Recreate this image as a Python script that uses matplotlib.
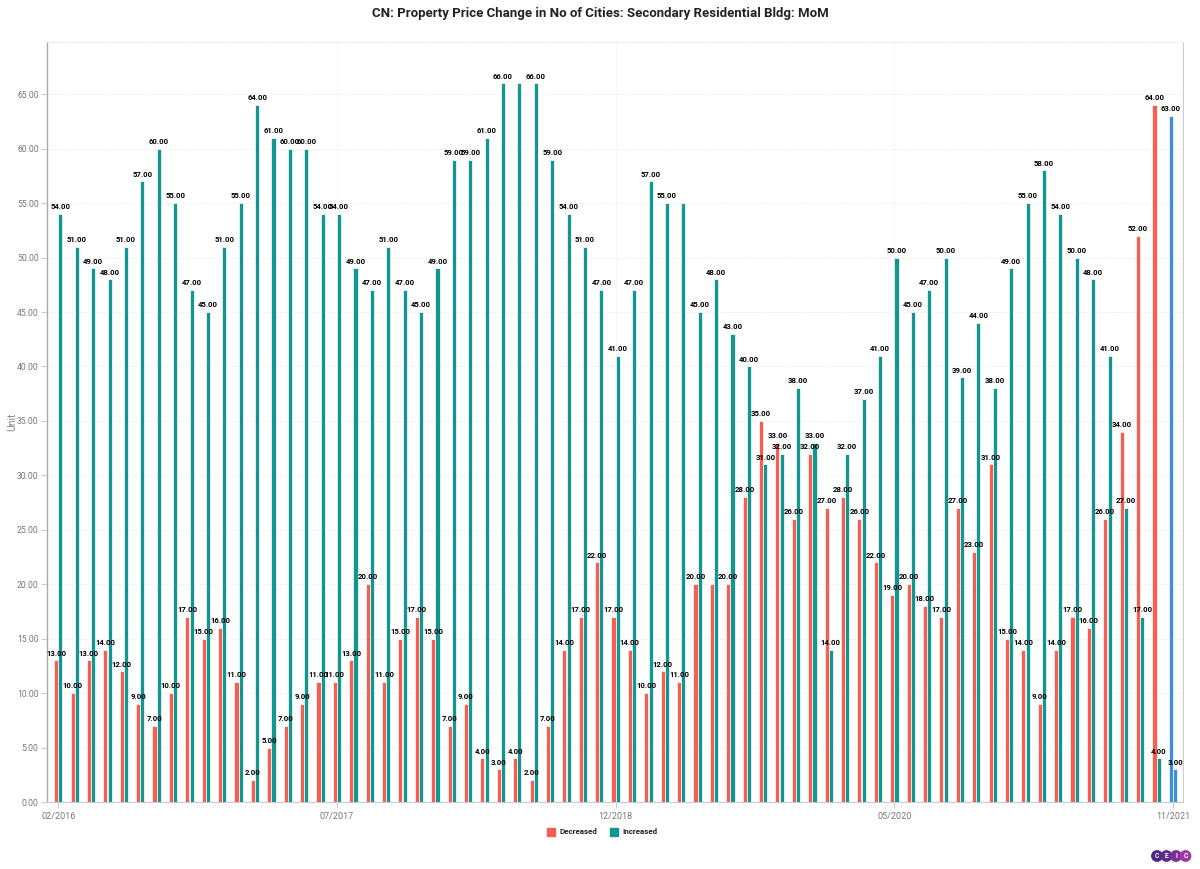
import matplotlib
matplotlib.use("Agg")
import matplotlib.pyplot as plt
from matplotlib.patches import Ellipse, Rectangle
import numpy as np

plt.rcParams['font.family'] = ['Roboto', 'DejaVu Sans']

# ---- data ----
decreased = [13, 10, 13, 14, 12, 9, 7, 10, 17, 15, 16, 11,
             2, 5, 7, 9, 11, 11, 13, 20, 11, 15, 17,
             15, 7, 9, 4, 3, 4, 2, 7, 14, 17, 22, 17,
             14, 10, 12, 11, 20, 20, 20, 28, 35, 33, 26, 32,
             27, 28, 26, 22, 19, 20, 18, 17, 27, 23, 31,
             15, 14, 9, 14, 17, 16, 26, 34, 52, 64, 63]
increased = [54, 51, 49, 48, 51, 57, 60, 55, 47, 45, 51, 55,
             64, 61, 60, 60, 54, 54, 49, 47, 51, 47, 45,
             49, 59, 59, 61, 66, 66, 66, 59, 54, 51, 47, 41,
             47, 57, 55, 55, 45, 48, 43, 40, 31, 32, 38, 33,
             14, 32, 37, 41, 50, 45, 47, 50, 39, 44, 38,
             49, 55, 58, 54, 50, 48, 41, 27, 17, 4, 3]

# x-axis labels and the bar index each one sits under
tick_labels = ["02/2016", "07/2017", "12/2018", "05/2020", "11/2021"]
tick_index = [0, 17, 34, 51, 68]
yticks = list(range(0, 70, 5))

# value labels omitted in the reference (overlaps)
hide_dec = {40}
hide_inc = {28, 38}

RED = "#F65E52"
TEAL = "#12968F"
BLUE = "#3C8FDA"

fig = plt.figure(figsize=(12, 8.69), dpi=100)
ax = fig.add_axes([47 / 1200, 1 - 802 / 869, (1183 - 47) / 1200, (802 - 42) / 869])

n = len(decreased)
x = np.arange(n)
off = 0.13
w = 0.25
dec_colors = [RED] * (n - 1) + [BLUE]
inc_colors = [TEAL] * (n - 1) + [BLUE]

ax.bar(x - off, decreased, width=w, color=dec_colors, edgecolor="white", linewidth=0.5, zorder=3)
ax.bar(x + off, increased, width=w, color=inc_colors, edgecolor="white", linewidth=0.5, zorder=3)

for i in range(n):
    if i not in hide_dec:
        ax.text(x[i] - off, decreased[i] + 0.35, f"{decreased[i]:.2f}", ha="center", va="bottom",
                fontsize=5.6, fontweight="bold", color="black", zorder=5)
    if i not in hide_inc:
        ax.text(x[i] + off, increased[i] + 0.35, f"{increased[i]:.2f}", ha="center", va="bottom",
                fontsize=5.6, fontweight="bold", color="black", zorder=5)

ax.set_xlim(-0.69, n - 1 + 0.61)
ax.set_ylim(0, 69.8)

ax.set_xticks(tick_index)
ax.set_xticklabels(tick_labels, fontsize=6.5, color="#777777")
ax.set_yticks(yticks)
ax.set_yticklabels([f"{v:.2f}" for v in yticks], fontsize=6.2, color="#777777")
ax.tick_params(axis="y", length=4, color="#cccccc", pad=2)
ax.tick_params(axis="x", length=4, color="#cccccc", pad=3)

ax.grid(axis="y", linestyle=(0, (1, 2)), color="#dddddd", linewidth=0.6, zorder=0)
for p in tick_index[1:4]:
    ax.axvline(p, linestyle=(0, (1, 2)), color="#dddddd", linewidth=0.6, zorder=0)

ax.spines["left"].set_color("#aaaaaa")
ax.spines["left"].set_linewidth(1.0)
ax.spines["bottom"].set_color("#cccccc")
ax.spines["bottom"].set_linewidth(0.8)
ax.spines["right"].set_color("#cccccc")
ax.spines["right"].set_linewidth(0.8)
ax.spines["top"].set_color("#e4e4e4")
ax.spines["top"].set_linestyle((0, (1, 2)))
ax.spines["top"].set_linewidth(0.6)

ax.set_ylabel("Unit", fontsize=7.5, color="#888888")
ax.yaxis.set_label_coords(-0.026, 0.5)

fig.text(0.5, 1 - 13 / 869, "CN: Property Price Change in No of Cities: Secondary Residential Bldg: MoM",
         ha="center", va="center", fontsize=9.5, fontweight="bold", color="#222222")

# legend
leg_y = 1 - 832 / 869
for (lx, lab, col) in [(547, "Decreased", RED), (610, "Increased", TEAL)]:
    fig.patches.append(Rectangle((lx / 1200, leg_y - 4 / 869), 8 / 1200, 8 / 869,
                                 transform=fig.transFigure, color=col))
    fig.text((lx + 12) / 1200, leg_y, lab, ha="left", va="center", fontsize=5.8,
             fontweight="bold", color="#222222")

# CEIC logo
logo_cols = ["#4B2A82", "#5E2C8C", "#7A3196", "#9B3AA2"]
for k, (ch, col) in enumerate(zip("CEIC", logo_cols)):
    cx = (1157 + k * 9.5) / 1200
    cy = 1 - 856 / 869
    fig.patches.append(Ellipse((cx, cy), 10.4 / 1200, 10.4 / 869, transform=fig.transFigure, color=col))
    fig.text(cx, cy, ch, ha="center", va="center", fontsize=4.8, fontweight="bold", color="white")

fig.savefig("out.png", dpi=100)
